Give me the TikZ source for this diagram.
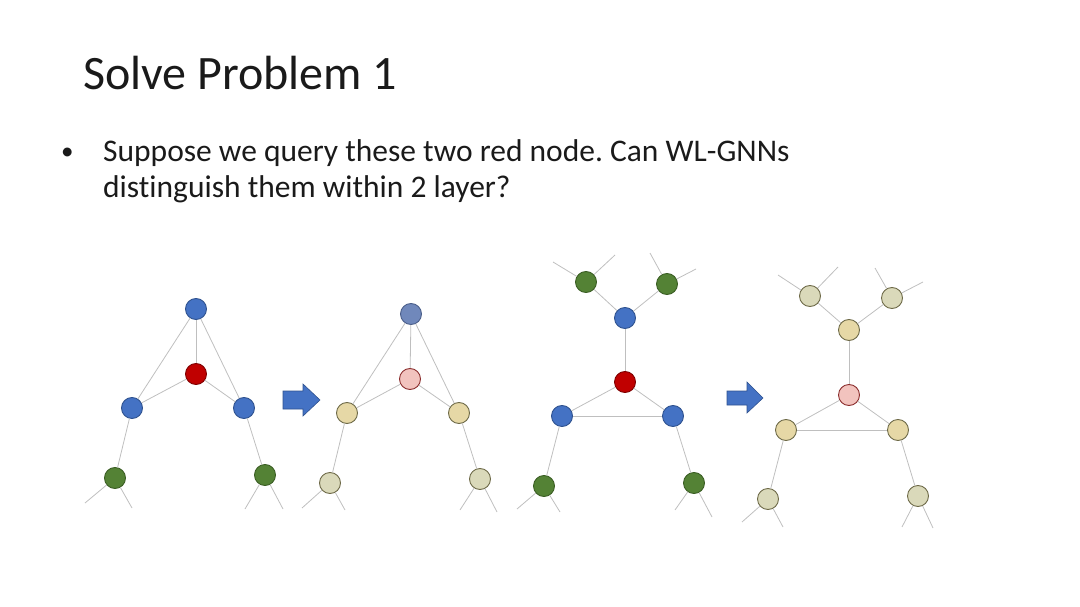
\documentclass[tikz,border=0pt]{standalone}
\usepackage{fontspec}
\setmainfont{Carlito}[Ligatures=NoCommon]
\usepackage{tikz}
\usetikzlibrary{arrows}
\frenchspacing

\definecolor{vblue}{HTML}{4472C4}
\definecolor{vbluedk}{HTML}{2F528F}
\definecolor{vred}{HTML}{C00000}
\definecolor{vreddk}{HTML}{7F0000}
\definecolor{vgreen}{HTML}{548235}
\definecolor{vgreendk}{HTML}{3B5E24}
\definecolor{vgrey}{HTML}{7088BB}
\definecolor{vgreydk}{HTML}{4A5E8A}
\definecolor{vpink}{HTML}{F2C3BE}
\definecolor{vpinkdk}{HTML}{8B2E2E}
\definecolor{vtan}{HTML}{E6D8A6}
\definecolor{vpale}{HTML}{DAD9BA}
\definecolor{vtandk}{HTML}{6E6A48}
\definecolor{vedge}{HTML}{BFBFBF}
\definecolor{vtext}{HTML}{1A1A1A}

\begin{document}
\begin{tikzpicture}[x=1pt, y=-1pt,
  vtx/.style={circle, line width=0.9pt, minimum size=21pt, inner sep=0pt},
  bv/.style={vtx, fill=vblue, draw=vbluedk},
  rv/.style={vtx, fill=vred, draw=vreddk},
  gv/.style={vtx, fill=vgreen, draw=vgreendk},
  sv/.style={vtx, fill=vgrey, draw=vgreydk},
  pv/.style={vtx, fill=vpink, draw=vpinkdk},
  tv/.style={vtx, fill=vtan, draw=vtandk},
  lv/.style={vtx, fill=vpale, draw=vtandk},
  edge/.style={draw=vedge, line width=0.8pt},
  blockarrow/.style={fill=vblue, draw=vbluedk, line width=0.6pt}]
\useasboundingbox (0,0) rectangle (1080,607);

% text
\node [anchor=base west, text=vtext, font=\fontsize{48}{52}\selectfont, inner sep=0pt] (title) at (83,90) {Solve Problem 1};
\node [anchor=base west, text=vtext, font=\fontsize{25}{30}\selectfont, inner sep=0pt] (dot) at (61,160) {•};
\node [anchor=base west, text=vtext, font=\fontsize{31.5}{35}\selectfont, inner sep=0pt] (q1) at (103,162) {Suppose we query these two red node. Can WL-GNNs};
\node [anchor=base west, text=vtext, font=\fontsize{31.5}{35}\selectfont, inner sep=0pt] (q2) at (103,197) {distinguish them within 2 layer?};

%% graph 1
\node [bv] (a0) at (196,309) {};
\node [rv] (ar) at (196,374) {};
\node [bv] (al) at (132,408) {};
\node [bv] (ab) at (244,408) {};
\node [gv] (agl) at (115,478) {};
\node [gv] (agr) at (265,475) {};
\coordinate (a1) at (85,503); \coordinate (a2) at (132,508);
\coordinate (a3) at (245,509); \coordinate (a4) at (283,509);
\draw [edge] (a0) -- (ar); \draw [edge] (a0) -- (al); \draw [edge] (a0) -- (ab);
\draw [edge] (ar) -- (al); \draw [edge] (ar) -- (ab);
\draw [edge] (al) -- (agl); \draw [edge] (ab) -- (agr);
\draw [edge] (agl) -- (a1); \draw [edge] (agl) -- (a2);
\draw [edge] (agr) -- (a3); \draw [edge] (agr) -- (a4);

\draw [blockarrow] (283,391) -- (303,391) -- (303,384) -- (320,400) -- (303,416) -- (303,409) -- (283,409) -- cycle;

%% graph 2
\node [sv] (b0) at (411,314) {};
\node [pv] (br) at (410,379) {};
\node [tv] (bl) at (347,413) {};
\node [tv] (bb) at (459,413) {};
\node [lv] (bgl) at (330,483) {};
\node [lv] (bgr) at (480,479) {};
\coordinate (b1) at (302,508); \coordinate (b2) at (345,510);
\coordinate (b3) at (460,510); \coordinate (b4) at (497,512);
\draw [edge] (b0) -- (br); \draw [edge] (b0) -- (bl); \draw [edge] (b0) -- (bb);
\draw [edge] (br) -- (bl); \draw [edge] (br) -- (bb);
\draw [edge] (bl) -- (bgl); \draw [edge] (bb) -- (bgr);
\draw [edge] (bgl) -- (b1); \draw [edge] (bgl) -- (b2);
\draw [edge] (bgr) -- (b3); \draw [edge] (bgr) -- (b4);

%% graph 3
\node [gv] (ctl) at (586,282) {};
\node [gv] (ctr) at (667,284) {};
\node [bv] (c0) at (625,318) {};
\node [rv] (cr) at (625,382) {};
\node [bv] (cl) at (562,416) {};
\node [bv] (cb) at (673,416) {};
\node [gv] (cgl) at (544,486) {};
\node [gv] (cgr) at (694,483) {};
\coordinate (c1) at (553,262); \coordinate (c2) at (615,255);
\coordinate (c3) at (650,253); \coordinate (c4) at (696,269);
\coordinate (c5) at (517,509); \coordinate (c6) at (560,512);
\coordinate (c7) at (675,510); \coordinate (c8) at (712,517);
\draw [edge] (ctl) -- (c0); \draw [edge] (ctr) -- (c0); \draw [edge] (c0) -- (cr);
\draw [edge] (cr) -- (cl); \draw [edge] (cr) -- (cb); \draw [edge] (cl) -- (cb);
\draw [edge] (cl) -- (cgl); \draw [edge] (cb) -- (cgr);
\draw [edge] (ctl) -- (c1); \draw [edge] (ctl) -- (c2);
\draw [edge] (ctr) -- (c3); \draw [edge] (ctr) -- (c4);
\draw [edge] (cgl) -- (c5); \draw [edge] (cgl) -- (c6);
\draw [edge] (cgr) -- (c7); \draw [edge] (cgr) -- (c8);

\draw [blockarrow] (727,391) -- (747,391) -- (747,382) -- (763,398) -- (747,413) -- (747,405) -- (727,405) -- cycle;

%% graph 4
\node [lv] (dtl) at (810,296) {};
\node [lv] (dtr) at (892,298) {};
\node [tv] (d0) at (849,330) {};
\node [pv] (dr) at (849,395) {};
\node [tv] (dl) at (786,430) {};
\node [tv] (db) at (898,430) {};
\node [lv] (dgl) at (768,499) {};
\node [lv] (dgr) at (918,496) {};
\coordinate (d1) at (778,275); \coordinate (d2) at (838,267);
\coordinate (d3) at (875,268); \coordinate (d4) at (923,282);
\coordinate (d5) at (742,522); \coordinate (d6) at (783,527);
\coordinate (d7) at (902,527); \coordinate (d8) at (933,528);
\draw [edge] (dtl) -- (d0); \draw [edge] (dtr) -- (d0); \draw [edge] (d0) -- (dr);
\draw [edge] (dr) -- (dl); \draw [edge] (dr) -- (db); \draw [edge] (dl) -- (db);
\draw [edge] (dl) -- (dgl); \draw [edge] (db) -- (dgr);
\draw [edge] (dtl) -- (d1); \draw [edge] (dtl) -- (d2);
\draw [edge] (dtr) -- (d3); \draw [edge] (dtr) -- (d4);
\draw [edge] (dgl) -- (d5); \draw [edge] (dgl) -- (d6);
\draw [edge] (dgr) -- (d7); \draw [edge] (dgr) -- (d8);

\end{tikzpicture}
\end{document}
